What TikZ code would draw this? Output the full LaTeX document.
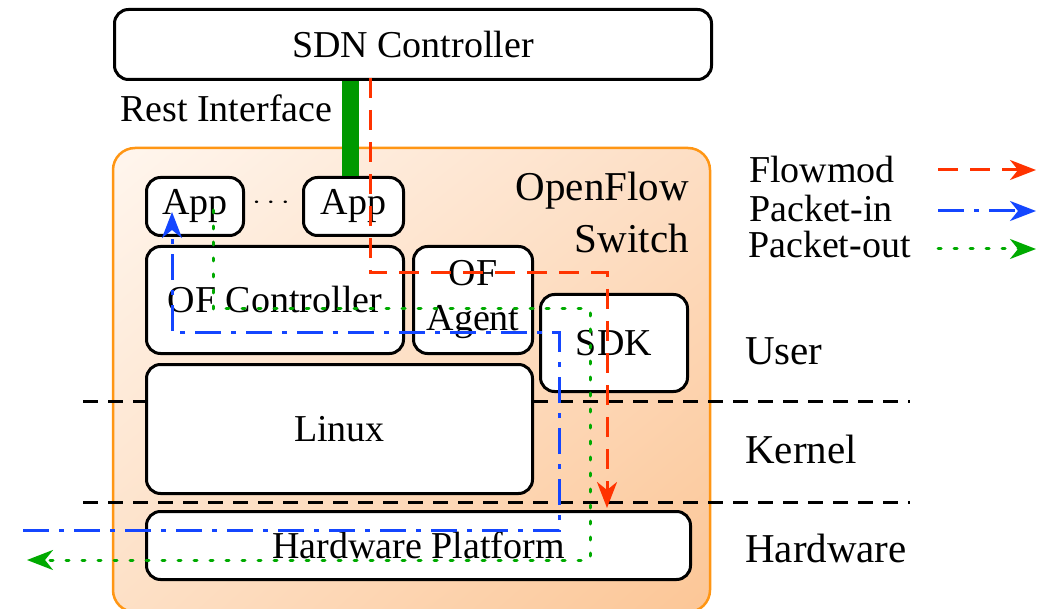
\documentclass[tikz,border=0pt]{standalone}
\usepackage{fontspec}
\IfFontExistsTF{LiberationSerif-Regular.ttf}
  {\newfontfamily\timesfont{LiberationSerif-Regular.ttf}}
  {\let\timesfont\rmfamily}
\usetikzlibrary{arrows.meta,shadings}
\definecolor{fmred}{RGB}{255,51,0}
\definecolor{piblue}{RGB}{20,70,255}
\definecolor{pogreen}{RGB}{0,170,0}
\definecolor{bargreen}{RGB}{0,153,0}
\definecolor{ofborder}{RGB}{255,150,20}
\definecolor{shUL}{RGB}{255,246,238}
\definecolor{shUR}{RGB}{253,222,196}
\definecolor{shLL}{RGB}{253,224,198}
\definecolor{shLR}{RGB}{252,198,150}
\begin{document}
\begin{tikzpicture}[x=1pt,y=-1pt,
  font=\timesfont\fontsize{38}{45}\selectfont,
  bigfont/.style={font=\timesfont\fontsize{41}{48}\selectfont},
  blk/.style={draw=black, line width=3pt, rounded corners=14pt, fill=white, inner sep=0pt},
  lbl/.style={inner sep=0pt, anchor=base west},
  layerline/.style={draw=black, line width=3pt, dash pattern=on 15pt off 10pt},
  tipstyle/.style={-{Stealth[length=26pt, width=20pt, inset=8pt]}},
  flowmod/.style={draw=fmred, line width=3pt, dash pattern=on 20pt off 12pt, tipstyle},
  pktin/.style={draw=piblue, line width=3pt, dash pattern=on 26pt off 10pt on 5pt off 10pt, tipstyle},
  pktout/.style={draw=pogreen, line width=3pt, line cap=round, dash pattern=on 3pt off 13pt, tipstyle},
]
\useasboundingbox (0,0) rectangle (1046,609);

% OpenFlow switch container
\shade[rounded corners=22pt, upper left=shUL, upper right=shUR,
  lower left=shLL, lower right=shLR]
  (113,148) rectangle (710,612);
\draw[ofborder, line width=2.5pt, rounded corners=22pt] (113,148) rectangle (710,612);

% layer separators
\coordinate (l1a) at (83,401);
\coordinate (l1b) at (910,401);
\coordinate (l2a) at (83,502);
\coordinate (l2b) at (910,502);
\draw[layerline] (l1a) -- (l1b);
\draw[layerline] (l2a) -- (l2b);

% boxes
\node[blk, anchor=north west, minimum width=597pt, minimum height=70pt] (sdn) at (113,8) {SDN Controller};
\node[blk, anchor=north west, minimum width=97pt, minimum height=58pt] (app1) at (145,176) {App};
\node[blk, anchor=north west, minimum width=100pt, minimum height=58pt] (app2) at (302,176) {App};
\node[inner sep=0pt, xscale=1.3] (dots) at (271,203) {$\cdots$};
\node[blk, anchor=north west, minimum width=257pt, minimum height=107pt] (ofc) at (145,245) {OF Controller};
\node[blk, anchor=north west, minimum width=119pt, minimum height=107pt, align=center] (ofa) at (412,245) {OF\\Agent};
\node[blk, anchor=north west, minimum width=147pt, minimum height=97pt] (sdk) at (539,293) {SDK};
\node[blk, anchor=north west, minimum width=386pt, minimum height=129pt] (linux) at (145,363) {Linux};
\node[blk, anchor=north west, minimum width=544pt, minimum height=68pt] (hw) at (145,510) {Hardware Platform};

% rest interface
\draw[bargreen, line width=17pt] (sdn.south -| 350,0) -- (app2.north -| 350,0);
\node[lbl] (rest) at (120,122) {Rest Interface};

% switch label
\node[bigfont, inner sep=0pt, anchor=base east] (of1) at (689,201) {OpenFlow};
\node[bigfont, inner sep=0pt, anchor=base east] (of2) at (689,253) {Switch};

% layer labels
\node[bigfont, lbl] (user) at (745,364) {User};
\node[bigfont, lbl] (kern) at (745,463) {Kernel};
\node[bigfont, lbl] (hwl) at (745,562) {Hardware};

% legend
\node[lbl] (lg1) at (749,183) {Flowmod};
\node[lbl] (lg2) at (749,222) {Packet-in};
\node[lbl] (lg3) at (748,258) {Packet-out};
\coordinate (lf1a) at (938,170); \coordinate (lf1b) at (1036,170);
\coordinate (lf2a) at (938,211); \coordinate (lf2b) at (1036,211);
\coordinate (lf3a) at (938,249); \coordinate (lf3b) at (1036,249);
\draw[flowmod] (lf1a) -- (lf1b);
\draw[pktin] (lf2a) -- (lf2b);
\draw[pktout] (lf3a) -- (lf3b);

% Flowmod path
\coordinate (fm0) at (370,78);
\coordinate (fm1) at (370,273);
\coordinate (fm2) at (607,273);
\coordinate (fm3) at (607,508);
\draw[flowmod] (fm0) -- (fm1) -- (fm2) -- (fm3);

% Packet-in path
\coordinate (pi0) at (23,530);
\coordinate (pi1) at (559,530);
\coordinate (pi2) at (559,333);
\coordinate (pi3) at (172,333);
\coordinate (pi4) at (172,212);
\draw[pktin] (pi0) -- (pi1) -- (pi2) -- (pi3) -- (pi4);

% Packet-out path
\coordinate (po0) at (213,210);
\coordinate (po1) at (213,309);
\coordinate (po2) at (590,309);
\coordinate (po3) at (590,560);
\coordinate (po4) at (27,560);
\draw[pktout] (po0) -- (po1) -- (po2) -- (po3) -- (po4);
\end{tikzpicture}
\end{document}
